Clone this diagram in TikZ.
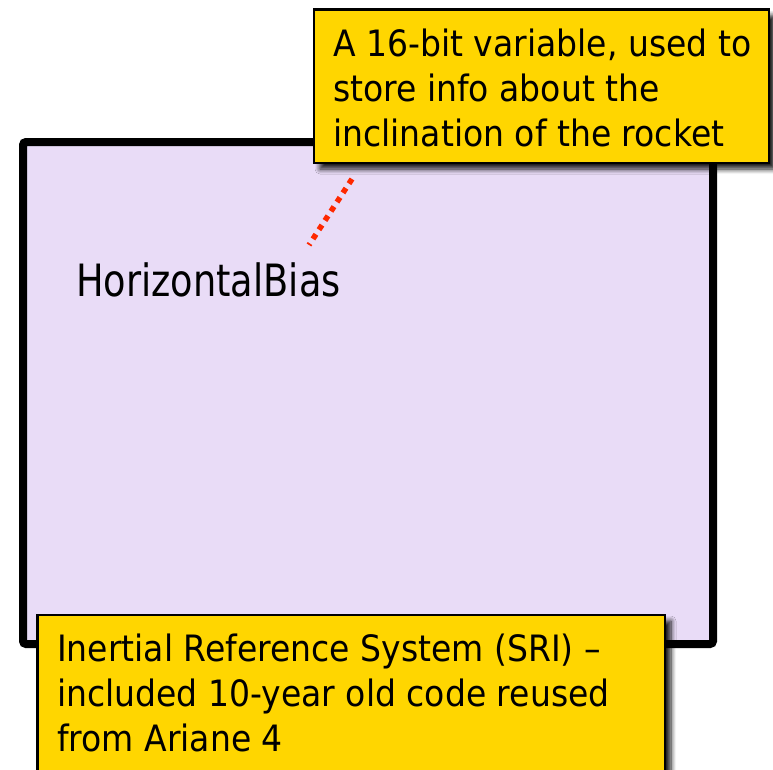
\documentclass[tikz,border=0pt]{standalone}
\usepackage{fontspec}
\setmainfont{DejaVu Sans}
\newfontfamily\notefont{DejaVu Sans}[FakeStretch=0.91]
\newfontfamily\labelfont{DejaVu Sans}[FakeStretch=0.825]
\usetikzlibrary{shadows.blur}
\definecolor{panelfill}{RGB}{233,220,247}
\definecolor{notefill}{RGB}{255,214,0}
\definecolor{pointer}{RGB}{255,40,0}
\tikzset{
  panel/.style={draw=black, line width=8pt, fill=panelfill, rounded corners=3pt,
    inner sep=0pt, outer sep=0pt, anchor=north west},
  callout/.style={draw=black, line width=2.5pt, fill=notefill, inner sep=0pt,
    outer sep=0pt, anchor=north west,
    blur shadow={shadow xshift=6pt, shadow yshift=-6pt, shadow blur steps=8,
      shadow blur radius=5pt, shadow opacity=90}},
  notetext/.style={font=\notefont\fontsize{36.3}{45}\selectfont, align=left,
    inner sep=0pt, anchor=north west},
  varlabel/.style={font=\labelfont\fontsize{44.5}{50}\selectfont, inner sep=0pt,
    anchor=base west},
  pointerline/.style={draw=pointer, line width=5.5pt, dash pattern=on 5.5pt off 5.5pt},
}
\begin{document}
\begin{tikzpicture}[x=1pt,y=-1pt]
  \clip (0,0) rectangle (773,769);

  % inertial reference system panel
  \node[panel, minimum width=690pt, minimum height=502pt] (sri) at (23,142) {};

  % variable name inside the panel
  \node[varlabel] (hbias) at (76,296.7) {HorizontalBias};

  % note about the variable
  \node[callout, minimum width=455pt, minimum height=153.5pt] (varnote) at (314,9.5) {};
  \node[notetext] (vartext) at (333,29.1)
    {A 16-bit variable, used to\\store info about the\\inclination of the rocket};

  % note about the panel
  \node[callout, minimum width=627.5pt, minimum height=200pt] (srinote) at (37.5,615) {};
  \node[notetext] (sritext) at (57,633.4)
    {Inertial Reference System (SRI) –\\included 10-year old code reused\\from Ariane 4};

  % dotted pointer from the note to the variable
  \coordinate (ptrstart) at (352,179);
  \coordinate (ptrend) at (309,245);
  \draw[pointerline] (ptrstart) -- (ptrend);
\end{tikzpicture}
\end{document}
